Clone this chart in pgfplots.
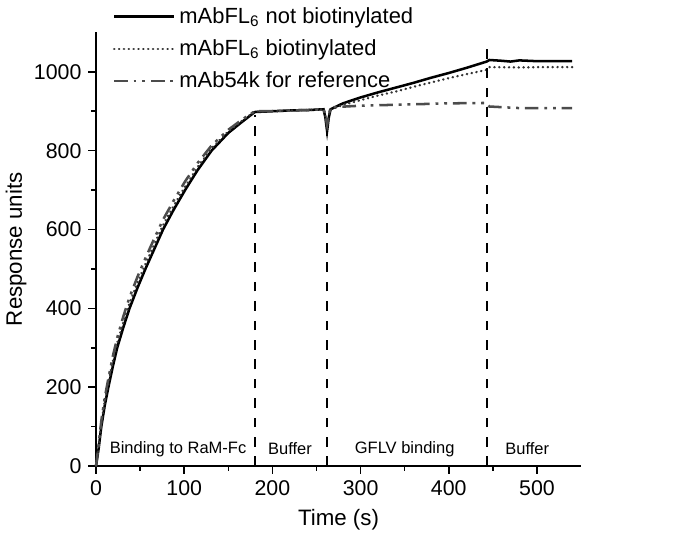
\documentclass[border=0pt]{standalone}
\usepackage{pgfplots}
\pgfplotsset{compat=1.18}
\usepackage{fontspec}
\setmainfont{Liberation Sans}
\begin{document}
\begin{tikzpicture}
\begin{axis}[
  scale only axis, width=250pt, height=223.5pt,
  xmin=0, xmax=550, ymin=0, ymax=1100,
  axis x line=bottom, axis y line=left,
  axis line style={-, line width=0.8pt},
  xtick={0,100,...,500}, ytick={0,200,...,1000},
  minor x tick num=1, minor y tick num=1,
  tick align=outside, major tick length=4pt, minor tick length=2.5pt,
  tick style={black, line width=0.8pt},
  /pgf/number format/assume math mode=true,
  /pgf/number format/1000 sep={},
  ticklabel style={font=\fontsize{11}{12}\selectfont},
  xlabel={Time (s)}, ylabel={Response units},
  label style={font=\fontsize{11.5}{13}\selectfont},
  ylabel style={at={(axis description cs:-0.165,0.5)}, anchor=center},
  legend style={draw=none, fill=none, at={(0.034,1.068)}, anchor=north west,
    font=\fontsize{11.3}{13}\selectfont, row sep=2.9pt, inner sep=0pt},
  legend cell align=left,
  legend image code/.code={\draw[#1] (0pt,0pt) -- (31pt,0pt);},
  clip=false,
]
\addplot[black, line width=1.3pt] coordinates {
(0,0) (3,45) (6,100) (10,155) (14,200) (19,252) (24,300) (31,352) (38,400)
(47,452) (56,500) (66,550) (76,600) (88,650) (101,700) (115,750) (131,800)
(150,845) (165,872) (180,898) (200,900) (220,902) (240,903) (258,905)
(260,885) (262,850) (264,885) (266,905) (280,920) (300,935) (320,948)
(340,960) (360,972) (380,985) (400,997) (420,1010) (443,1026) (446,1030)
(460,1028) (470,1026) (480,1029) (500,1027) (520,1027) (540,1027)};
\addlegendentry{mAbFL\textsubscript{6} not biotinylated}
\addplot[black!80, line width=1.3pt, line cap=round, dash pattern=on 0.1pt off 2.4pt] coordinates {
(0,0) (3,50) (6,108) (10,165) (14,212) (19,265) (24,312) (31,365) (38,413)
(47,465) (56,512) (66,562) (76,611) (88,660) (101,709) (115,758) (131,806)
(150,849) (165,875) (180,899) (200,900) (220,902) (240,903) (258,905)
(260,890) (262,860) (264,890) (266,904) (280,916) (300,928) (320,940)
(340,950) (360,962) (380,973) (400,984) (420,994) (443,1005) (446,1012)
(480,1011) (510,1012) (540,1012)};
\addlegendentry{mAbFL\textsubscript{6} biotinylated}
\addplot[black!70, line width=1.3pt, dash pattern=on 7pt off 3pt on 1.5pt off 3pt on 1.5pt off 3pt] coordinates {
(0,0) (3,55) (6,115) (10,175) (14,222) (19,278) (24,325) (31,380) (38,428)
(47,480) (56,527) (66,577) (76,625) (88,673) (101,722) (115,768) (131,813)
(150,853) (165,878) (180,900) (200,900) (220,902) (240,903) (258,905)
(260,892) (262,865) (264,892) (266,910) (300,914) (350,917) (400,920)
(443,921) (446,912) (480,908) (510,908) (540,908)};
\addlegendentry{mAb54k for reference}
\addplot[black, line width=0.9pt, dash pattern=on 5pt off 5pt, forget plot] coordinates {(180,0) (180,890)};
\addplot[black, line width=0.9pt, dash pattern=on 5pt off 5pt, forget plot] coordinates {(262,0) (262,850)};
\addplot[black, line width=0.9pt, dash pattern=on 5pt off 5pt, forget plot] coordinates {(443,0) (443,1080)};
\node[font=\fontsize{8.5}{10}\selectfont] at (axis cs:93,43) {Binding to RaM-Fc};
\node[font=\fontsize{8.5}{10}\selectfont] at (axis cs:220,43) {Buffer};
\node[font=\fontsize{8.5}{10}\selectfont] at (axis cs:350,43) {GFLV binding};
\node[font=\fontsize{8.5}{10}\selectfont] at (axis cs:489,43) {Buffer};
\end{axis}
\pgfresetboundingbox
\path (current axis.south west) ++(-49.5pt,-41.2pt) rectangle ++(350.5pt,281.4pt);
\end{tikzpicture}
\end{document}
